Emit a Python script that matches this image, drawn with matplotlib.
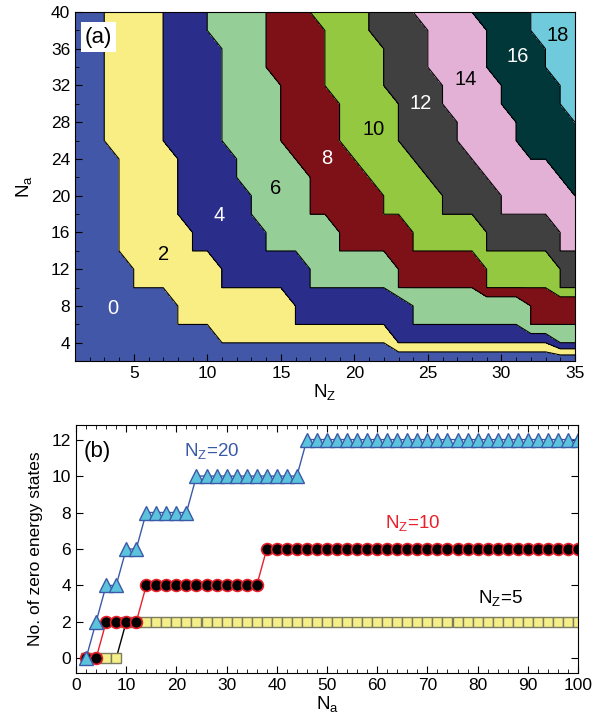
import numpy as np
import matplotlib
matplotlib.use("Agg")
import matplotlib.pyplot as plt

plt.rcParams['font.family'] = ['Liberation Sans', 'DejaVu Sans']
plt.rcParams['mathtext.fontset'] = 'custom'
plt.rcParams['mathtext.rm'] = 'Liberation Sans'
plt.rcParams['mathtext.it'] = 'Liberation Sans'

# ---- panel (a): phase map of zero energy states over (N_Z, N_a) ----
nz = np.arange(1, 36)
na_grid = np.arange(2, 41, 2)
NONE = 99  # level never reached inside the plotted range

# smallest N_a at which the count reaches each level, one entry per N_Z = 1..35
thr2 = [NONE, NONE, 26, 14, 10, 10, 10, 6, 6, 6] + [4] * 25
thr4 = [NONE] * 6 + [26, 18, 14, 14, 10, 10, 10, 10, 10] + [6] * 7 + [4] * 13
thr6 = [NONE] * 9 + [38, 26, 22, 18, 14, 14, 14] + [10] * 7 + [6] * 10 + [4, 4]
thr8 = [NONE] * 13 + [34, 26, 24, 18, 18, 14, 14, 14, 14] + [10] * 9 + [6] * 4
thr10 = [NONE] * 16 + [40, 32, 26, 24, 22, 18, 18, 14, 14, 14, 14, 14] + [10] * 7
thr12 = [NONE] * 20 + [38, 32, 26, 24, 22, 18, 18, 18, 14, 14, 14, 14, 14, 10, 10]
thr14 = [NONE] * 23 + [40, 34, 30, 26, 24, 22, 18, 18, 18, 18, 14, 14]
thr16 = [NONE] * 27 + [40, 34, 30, 26, 24, 24, 22, 20]
thr18 = [NONE] * 31 + [38, 34, 30, 28]
thresholds = [thr2, thr4, thr6, thr8, thr10, thr12, thr14, thr16, thr18]

region_values = [0, 2, 4, 6, 8, 10, 12, 14, 16, 18]
region_colors = ['#4357a8', '#f9ee84', '#2a2e8a', '#95cf97', '#7e1117',
                 '#94c840', '#404040', '#e2b1d5', '#013738', '#6fcadb']
label_pos = [(3.6, 7.7), (7.05, 13.6), (10.8, 17.8), (14.65, 20.8), (18.1, 24.1),
             (21.3, 27.2), (24.5, 30.0), (27.6, 32.7), (31.1, 35.2), (33.8, 37.4)]
label_colors = ['white', 'black'] * 5

Z = np.zeros((len(na_grid), len(nz)))
for thr in thresholds:
    Z += 2 * (na_grid[:, None] >= np.array(thr)[None, :])

# ---- panel (b): counts versus N_a for three widths ----
na_b = np.arange(2, 101, 2)
states_nz5 = [0] * 4 + [2] * 46
states_nz10 = [0] * 2 + [2] * 4 + [4] * 12 + [6] * 32
states_nz20 = [0, 2, 4, 4, 6, 6] + [8] * 5 + [10] * 11 + [12] * 28

fig = plt.figure(figsize=(6.01, 7.18), dpi=100)
ax1 = fig.add_axes([75 / 601, 1 - 361 / 718, 500 / 601, 349 / 718])
ax2 = fig.add_axes([76 / 601, 1 - 673 / 718, 502 / 601, 248 / 718])

eps = 0.02
levels = [-1] + [v - eps for v in region_values[1:]] + [100]
ax1.contourf(nz, na_grid, Z, levels=levels, colors=region_colors)
ax1.contour(nz, na_grid, Z, levels=levels[1:-1], colors='k', linewidths=0.8)
for v, (x, y), c in zip(region_values, label_pos, label_colors):
    ax1.text(x, y, str(v), color=c, fontsize=14.5, ha='center', va='center')

ax1.text(0.047, 0.928, '(a)', transform=ax1.transAxes, fontsize=16,
         ha='center', va='center',
         bbox=dict(facecolor='white', edgecolor='none', pad=3))
ax1.set_xlim(1, 35)
ax1.set_ylim(2, 40)
ax1.set_xticks([5, 10, 15, 20, 25, 30, 35])
ax1.set_xticks(np.arange(1, 36), minor=True)
ax1.set_yticks(np.arange(4, 41, 4))
ax1.set_yticks(np.arange(2, 41, 2), minor=True)
ax1.tick_params(which='both', direction='in', labelsize=12.5)
ax1.tick_params(which='major', length=5)
ax1.tick_params(which='minor', length=3)
ax1.set_xlabel(r'N$_{\mathrm{Z}}$', fontsize=13.5, labelpad=1)
ax1.set_ylabel(r'N$_{\mathrm{a}}$', fontsize=13.5, labelpad=12)

ax2.plot(na_b, states_nz5, '-s', color='black', lw=1, ms=7,
         mfc='#f5ef8a', mec='#7d7b62', mew=1)
ax2.plot(na_b, states_nz10, '-o', color='#e8202a', lw=1, ms=8.5,
         mfc='black', mec='#e8202a', mew=1.2)
ax2.plot(na_b, states_nz20, '-^', color='#3a5aa8', lw=1, ms=9.5,
         mfc='#5cc3dc', mec='#3a5aa8', mew=1)

ax2.text(27, 11.35, r'N$_{\mathrm{Z}}$=20', color='#3a5aa8', fontsize=13.5,
         ha='center', va='center')
ax2.text(67, 7.4, r'N$_{\mathrm{Z}}$=10', color='#e8202a', fontsize=13.5,
         ha='center', va='center')
ax2.text(84.6, 3.3, r'N$_{\mathrm{Z}}$=5', color='black', fontsize=13.5,
         ha='center', va='center')
ax2.text(4.3, 11.35, '(b)', fontsize=16, ha='center', va='center')

ax2.set_xlim(0, 100)
ax2.set_ylim(-0.8, 12.8)
ax2.set_xticks(np.arange(0, 101, 10))
ax2.set_xticks(np.arange(0, 101, 2), minor=True)
ax2.set_yticks(np.arange(0, 13, 2))
ax2.tick_params(which='both', direction='in', top=True, right=True, labelsize=12.5)
ax2.tick_params(which='major', length=5)
ax2.tick_params(which='minor', length=3)
ax2.set_xlabel(r'N$_{\mathrm{a}}$', fontsize=13.5, labelpad=1)
ax2.set_ylabel('No. of zero energy states', fontsize=12.5, labelpad=6)

fig.savefig('out.png', dpi=100)
